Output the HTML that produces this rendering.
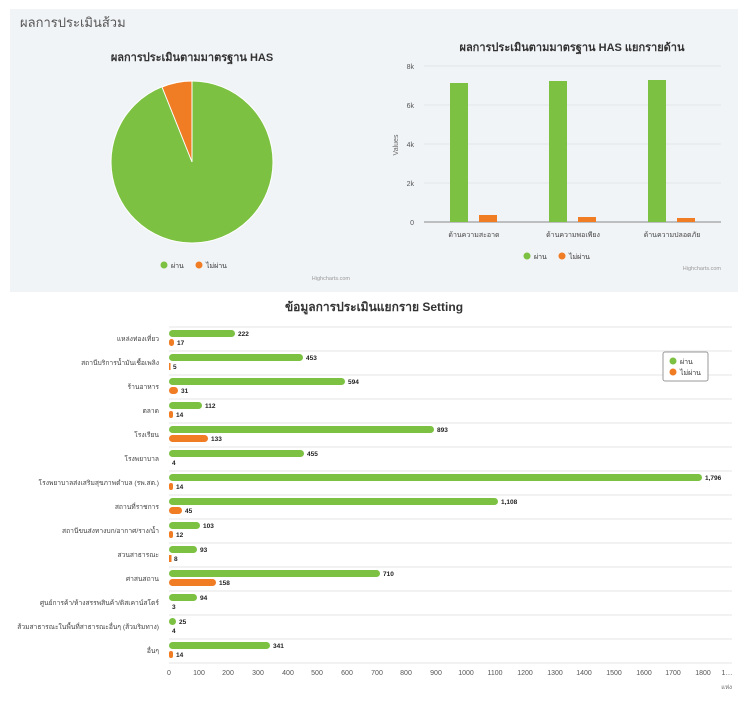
<!DOCTYPE html>
<html><head><meta charset="utf-8"><style>
body{margin:0;background:#fff;width:748px;height:697px;overflow:hidden;font-family:"Liberation Sans","Noto Sans CJK SC",sans-serif}
</style></head><body>
<svg width="748" height="697" xmlns="http://www.w3.org/2000/svg" font-family="Liberation Sans, Noto Sans CJK SC, sans-serif">
<rect x="10" y="9" width="728" height="283" fill="#f1f4f7"/>
<text x="20" y="27" font-size="13" fill="#555">ผลการประเมินส้วม</text>
<!-- pie -->
<text x="192" y="61" font-size="11" font-weight="bold" text-anchor="middle" fill="#333">ผลการประเมินตามมาตรฐาน HAS</text>
<circle cx="192" cy="162" r="81" fill="#7cc142" stroke="#fff" stroke-width="1"/>
<path d="M192,162 L192,81 A81,81 0 0 0 162,87 Z" fill="#f07c24" stroke="#fff" stroke-width="1"/>
<circle cx="164" cy="265" r="3.5" fill="#7cc142"/><text x="171" y="268" font-size="7" fill="#333">ผ่าน</text>
<circle cx="199" cy="265" r="3.5" fill="#f07c24"/><text x="206" y="268" font-size="7" fill="#333">ไม่ผ่าน</text>
<text x="350" y="280" font-size="5.5" fill="#999" text-anchor="end">Highcharts.com</text>
<!-- column -->
<text x="572" y="51" font-size="11" font-weight="bold" text-anchor="middle" fill="#333">ผลการประเมินตามมาตรฐาน HAS แยกรายด้าน</text>
<g stroke="#e3e6ea" stroke-width="1">
<line x1="424" y1="66" x2="721" y2="66"/><line x1="424" y1="105" x2="721" y2="105"/><line x1="424" y1="144" x2="721" y2="144"/><line x1="424" y1="183" x2="721" y2="183"/>
</g>
<line x1="424" y1="222" x2="721" y2="222" stroke="#888"/>
<g font-size="7" fill="#555" text-anchor="end">
<text x="414" y="69">8k</text><text x="414" y="108">6k</text><text x="414" y="147">4k</text><text x="414" y="186">2k</text><text x="414" y="225">0</text>
</g>
<text transform="translate(398,145) rotate(-90)" font-size="7" fill="#666" text-anchor="middle">Values</text>
<rect x="450" y="83" width="18" height="139" fill="#7cc142"/><rect x="479" y="215" width="18" height="7" fill="#f07c24"/>
<rect x="549" y="81" width="18" height="141" fill="#7cc142"/><rect x="578" y="217" width="18" height="5" fill="#f07c24"/>
<rect x="648" y="80" width="18" height="142" fill="#7cc142"/><rect x="677" y="218" width="18" height="4" fill="#f07c24"/>
<g font-size="7" fill="#444" text-anchor="middle">
<text x="474" y="237">ด้านความสะอาด</text><text x="573" y="237">ด้านความพอเพียง</text><text x="672" y="237">ด้านความปลอดภัย</text>
</g>
<circle cx="527" cy="256" r="3.5" fill="#7cc142"/><text x="534" y="259" font-size="7" fill="#333">ผ่าน</text>
<circle cx="562" cy="256" r="3.5" fill="#f07c24"/><text x="569" y="259" font-size="7" fill="#333">ไม่ผ่าน</text>
<text x="721" y="270" font-size="5.5" fill="#999" text-anchor="end">Highcharts.com</text>
<!-- bar chart -->
<text x="374" y="311" font-size="12" font-weight="bold" text-anchor="middle" fill="#333">ข้อมูลการประเมินแยกราย Setting</text>
<g id="grid" stroke="#e6e6e6">
<line x1="169" y1="327" x2="732" y2="327"/><line x1="169" y1="351" x2="732" y2="351"/><line x1="169" y1="375" x2="732" y2="375"/><line x1="169" y1="399" x2="732" y2="399"/><line x1="169" y1="423" x2="732" y2="423"/><line x1="169" y1="447" x2="732" y2="447"/><line x1="169" y1="471" x2="732" y2="471"/><line x1="169" y1="495" x2="732" y2="495"/><line x1="169" y1="519" x2="732" y2="519"/><line x1="169" y1="543" x2="732" y2="543"/><line x1="169" y1="567" x2="732" y2="567"/><line x1="169" y1="591" x2="732" y2="591"/><line x1="169" y1="615" x2="732" y2="615"/><line x1="169" y1="639" x2="732" y2="639"/><line x1="169" y1="663" x2="732" y2="663"/>
</g>
<g font-size="6.7" fill="#444" text-anchor="end">
<text x="159" y="341">แหล่งท่องเที่ยว</text>
<text x="159" y="365">สถานีบริการน้ำมันเชื้อเพลิง</text>
<text x="159" y="389">ร้านอาหาร</text>
<text x="159" y="413">ตลาด</text>
<text x="159" y="437">โรงเรียน</text>
<text x="159" y="461">โรงพยาบาล</text>
<text x="159" y="485">โรงพยาบาลส่งเสริมสุขภาพตำบล (รพ.สต.)</text>
<text x="159" y="509">สถานที่ราชการ</text>
<text x="159" y="533">สถานีขนส่งทางบก/อากาศ/ราง/น้ำ</text>
<text x="159" y="557">สวนสาธารณะ</text>
<text x="159" y="581">ศาสนสถาน</text>
<text x="159" y="605">ศูนย์การค้า/ห้างสรรพสินค้า/ดิสเคาน์สโตร์</text>
<text x="159" y="629">ส้วมสาธารณะในพื้นที่สาธารณะอื่นๆ (ส้วมริมทาง)</text>
<text x="159" y="653">อื่นๆ</text>
</g>
<g fill="#7cc142">
<rect x="169" y="330" width="66" height="7" rx="3.5"/>
<rect x="169" y="354" width="134" height="7" rx="3.5"/>
<rect x="169" y="378" width="176" height="7" rx="3.5"/>
<rect x="169" y="402" width="33" height="7" rx="3.5"/>
<rect x="169" y="426" width="265" height="7" rx="3.5"/>
<rect x="169" y="450" width="135" height="7" rx="3.5"/>
<rect x="169" y="474" width="533" height="7" rx="3.5"/>
<rect x="169" y="498" width="329" height="7" rx="3.5"/>
<rect x="169" y="522" width="31" height="7" rx="3.5"/>
<rect x="169" y="546" width="28" height="7" rx="3.5"/>
<rect x="169" y="570" width="211" height="7" rx="3.5"/>
<rect x="169" y="594" width="28" height="7" rx="3.5"/>
<rect x="169" y="618" width="7" height="7" rx="3.5"/>
<rect x="169" y="642" width="101" height="7" rx="3.5"/>
</g>
<g fill="#f07c24">
<rect x="169" y="339" width="5" height="7" rx="2.5"/>
<rect x="169" y="363" width="1.5" height="7"/>
<rect x="169" y="387" width="9" height="7" rx="3.5"/>
<rect x="169" y="411" width="4" height="7" rx="2"/>
<rect x="169" y="435" width="39" height="7" rx="3.5"/>
<rect x="169" y="483" width="4" height="7" rx="2"/>
<rect x="169" y="507" width="13" height="7" rx="3.5"/>
<rect x="169" y="531" width="4" height="7" rx="2"/>
<rect x="169" y="555" width="2.5" height="7"/>
<rect x="169" y="579" width="47" height="7" rx="3.5"/>
<rect x="169" y="651" width="4" height="7" rx="2"/>
</g>
<g font-size="6.5" font-weight="bold" fill="#222">
<text x="238" y="336">222</text><text x="177" y="345">17</text>
<text x="306" y="360">453</text><text x="173" y="369">5</text>
<text x="348" y="384">594</text><text x="181" y="393">31</text>
<text x="205" y="408">112</text><text x="176" y="417">14</text>
<text x="437" y="432">893</text><text x="211" y="441">133</text>
<text x="307" y="456">455</text><text x="172" y="465">4</text>
<text x="705" y="480">1,796</text><text x="176" y="489">14</text>
<text x="501" y="504">1,108</text><text x="185" y="513">45</text>
<text x="203" y="528">103</text><text x="176" y="537">12</text>
<text x="200" y="552">93</text><text x="174" y="561">8</text>
<text x="383" y="576">710</text><text x="219" y="585">158</text>
<text x="200" y="600">94</text><text x="172" y="609">3</text>
<text x="179" y="624">25</text><text x="172" y="633">4</text>
<text x="273" y="648">341</text><text x="176" y="657">14</text>
</g>
<g font-size="7" fill="#555" text-anchor="middle">
<text x="169" y="675">0</text><text x="199" y="675">100</text><text x="228" y="675">200</text><text x="258" y="675">300</text><text x="288" y="675">400</text><text x="317" y="675">500</text><text x="347" y="675">600</text><text x="377" y="675">700</text><text x="406" y="675">800</text><text x="436" y="675">900</text><text x="466" y="675">1000</text><text x="495" y="675">1100</text><text x="525" y="675">1200</text><text x="555" y="675">1300</text><text x="584" y="675">1400</text><text x="614" y="675">1500</text><text x="644" y="675">1600</text><text x="673" y="675">1700</text><text x="703" y="675">1800</text><text x="727" y="675">1…</text>
</g>
<text x="732" y="689" font-size="6" fill="#666" text-anchor="end">แห่ง</text>
<rect x="663" y="352" width="45" height="29" fill="#fff" stroke="#999" rx="2"/>
<circle cx="673" cy="361" r="3.5" fill="#7cc142"/><text x="680" y="364" font-size="7" fill="#333">ผ่าน</text>
<circle cx="673" cy="372" r="3.5" fill="#f07c24"/><text x="680" y="375" font-size="7" fill="#333">ไม่ผ่าน</text>
</svg>
</body></html>
